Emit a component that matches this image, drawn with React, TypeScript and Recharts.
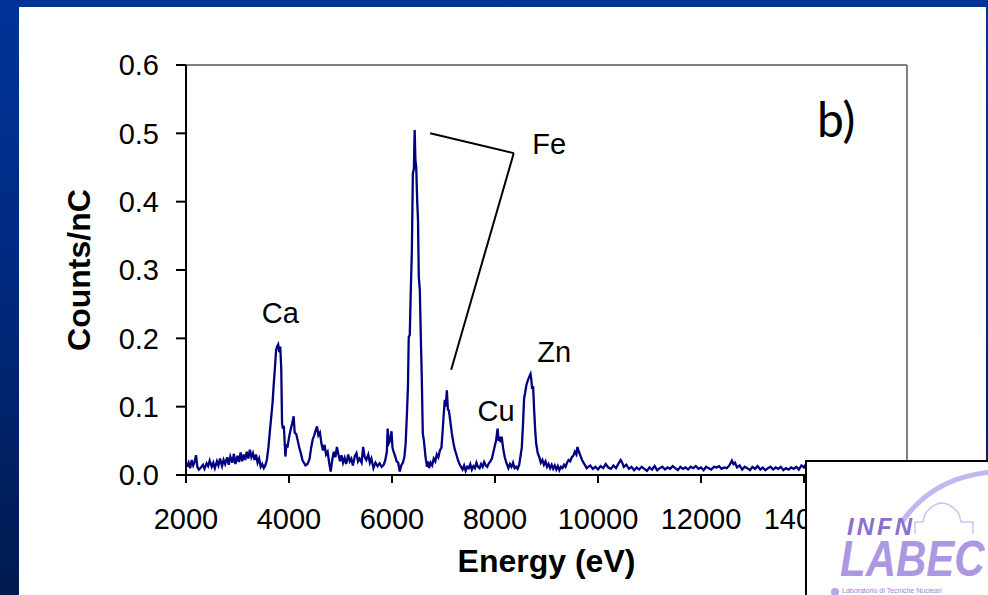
import React from 'react';
import { LineChart, Line, XAxis, YAxis, ReferenceLine, ReferenceDot, Label } from 'recharts';

const energies = [
  2020, 2050, 2080, 2110, 2140, 2170, 2195, 2220, 2250, 2290, 2330, 2360, 2400, 2430, 2460, 2500, 2530, 2560, 2600, 2630,
  2660, 2700, 2730, 2760, 2800, 2830, 2860, 2900, 2930, 2960, 3000, 3030, 3060, 3090, 3120, 3150, 3180, 3210, 3240, 3270,
  3300, 3330, 3360, 3390, 3420, 3450, 3480, 3510, 3540, 3570, 3600, 3630, 3655, 3680, 3700, 3725, 3750, 3770, 3790, 3810,
  3830, 3850, 3865, 3880, 3900, 3930, 3950, 3970, 4000, 4030, 4060, 4090, 4110, 4140, 4170, 4200, 4230, 4260, 4290, 4320,
  4360, 4400, 4430, 4460, 4490, 4520, 4545, 4570, 4600, 4630, 4660, 4690, 4720, 4750, 4780, 4810, 4840, 4870, 4900, 4930,
  4960, 4990, 5020, 5050, 5080, 5110, 5150, 5180, 5210, 5240, 5280, 5310, 5340, 5370, 5410, 5440, 5470, 5500, 5540, 5570,
  5600, 5640, 5680, 5720, 5760, 5800, 5840, 5870, 5900, 5915, 5935, 5960, 5990, 6010, 6030, 6060, 6090, 6120, 6150, 6180,
  6210, 6240, 6265, 6290, 6310, 6325, 6345, 6365, 6385, 6405, 6425, 6440, 6455, 6470, 6490, 6505, 6520, 6540, 6560, 6578,
  6598, 6620, 6650, 6680, 6700, 6720, 6750, 6780, 6810, 6840, 6870, 6900, 6930, 6960, 6985, 7005, 7025, 7045, 7065, 7085,
  7105, 7130, 7160, 7190, 7220, 7250, 7280, 7310, 7340, 7370, 7400, 7430, 7460, 7490, 7520, 7550, 7580, 7610, 7640, 7670,
  7700, 7730, 7760, 7790, 7820, 7850, 7880, 7910, 7940, 7970, 7995, 8020, 8050, 8070, 8090, 8110, 8130, 8160, 8190, 8220,
  8260, 8290, 8320, 8350, 8380, 8410, 8440, 8470, 8500, 8520, 8545, 8565, 8585, 8610, 8640, 8665, 8690, 8705, 8720, 8740,
  8760, 8780, 8800, 8830, 8860, 8890, 8920, 8950, 8980, 9010, 9040, 9070, 9100, 9130, 9160, 9190, 9220, 9250, 9280, 9310,
  9340, 9370, 9400, 9430, 9460, 9490, 9520, 9550, 9580, 9600, 9630, 9660, 9690, 9720, 9750, 9780, 9810, 9850, 9900, 9950,
  10000, 10050, 10100, 10150, 10200, 10250, 10300, 10350, 10400, 10440, 10470, 10500, 10550, 10600, 10650, 10700, 10750, 10800, 10850, 10900,
  10950, 11000, 11050, 11100, 11150, 11200, 11250, 11300, 11350, 11400, 11450, 11500, 11550, 11600, 11650, 11700, 11750, 11800, 11850, 11900,
  11950, 12000, 12050, 12100, 12150, 12200, 12250, 12300, 12350, 12400, 12450, 12500, 12550, 12600, 12630, 12660, 12700, 12750, 12800, 12850,
  12900, 12950, 13000, 13050, 13100, 13150, 13200, 13250, 13300, 13350, 13400, 13450, 13500, 13550, 13600, 13650, 13700, 13750, 13800, 13850,
  13900, 13950, 14000, 14050, 14100, 14150, 14200,
];

const counts = [
  0.012, 0.018, 0.010, 0.022, 0.014, 0.020, 0.029, 0.012, 0.008, 0.011, 0.015, 0.009, 0.017, 0.013, 0.021, 0.012, 0.018, 0.010, 0.020, 0.014,
  0.024, 0.013, 0.022, 0.016, 0.026, 0.015, 0.027, 0.018, 0.031, 0.016, 0.028, 0.019, 0.033, 0.020, 0.030, 0.022, 0.034, 0.024, 0.037, 0.026,
  0.032, 0.022, 0.030, 0.018, 0.024, 0.012, 0.016, 0.010, 0.014, 0.022, 0.040, 0.065, 0.085, 0.105, 0.129, 0.155, 0.183, 0.188, 0.191, 0.180,
  0.188, 0.154, 0.076, 0.068, 0.072, 0.027, 0.045, 0.040, 0.055, 0.066, 0.075, 0.086, 0.062, 0.060, 0.050, 0.040, 0.032, 0.022, 0.018, 0.014,
  0.016, 0.024, 0.040, 0.052, 0.058, 0.066, 0.071, 0.058, 0.062, 0.046, 0.036, 0.044, 0.030, 0.034, 0.018, 0.005, 0.022, 0.034, 0.026, 0.041,
  0.030, 0.020, 0.029, 0.018, 0.025, 0.016, 0.030, 0.020, 0.024, 0.014, 0.028, 0.032, 0.020, 0.024, 0.018, 0.041, 0.026, 0.022, 0.030, 0.018,
  0.024, 0.010, 0.018, 0.013, 0.017, 0.012, 0.015, 0.022, 0.034, 0.068, 0.046, 0.050, 0.064, 0.040, 0.034, 0.028, 0.020, 0.018, 0.005, 0.014,
  0.018, 0.026, 0.046, 0.090, 0.130, 0.202, 0.205, 0.270, 0.325, 0.441, 0.448, 0.505, 0.460, 0.451, 0.400, 0.373, 0.290, 0.271, 0.200, 0.144,
  0.061, 0.050, 0.027, 0.012, 0.020, 0.010, 0.018, 0.014, 0.024, 0.020, 0.030, 0.026, 0.036, 0.040, 0.066, 0.090, 0.110, 0.100, 0.124, 0.096,
  0.094, 0.080, 0.062, 0.048, 0.037, 0.030, 0.022, 0.016, 0.012, 0.008, 0.014, 0.006, 0.012, 0.010, 0.016, 0.008, 0.013, 0.010, 0.018, 0.012,
  0.010, 0.016, 0.012, 0.019, 0.014, 0.012, 0.017, 0.020, 0.024, 0.034, 0.042, 0.050, 0.068, 0.050, 0.056, 0.048, 0.056, 0.038, 0.026, 0.018,
  0.010, 0.016, 0.012, 0.018, 0.010, 0.012, 0.009, 0.015, 0.030, 0.040, 0.076, 0.112, 0.120, 0.132, 0.139, 0.144, 0.148, 0.140, 0.126, 0.130,
  0.095, 0.066, 0.046, 0.032, 0.026, 0.018, 0.022, 0.015, 0.020, 0.012, 0.016, 0.010, 0.015, 0.009, 0.014, 0.008, 0.013, 0.007, 0.012, 0.010,
  0.015, 0.012, 0.018, 0.022, 0.020, 0.026, 0.028, 0.034, 0.030, 0.041, 0.034, 0.028, 0.022, 0.018, 0.014, 0.010, 0.012, 0.014, 0.009, 0.012,
  0.008, 0.013, 0.010, 0.016, 0.011, 0.009, 0.014, 0.010, 0.017, 0.022, 0.018, 0.012, 0.015, 0.009, 0.012, 0.007, 0.011, 0.008, 0.012, 0.009,
  0.006, 0.011, 0.008, 0.013, 0.007, 0.010, 0.012, 0.008, 0.011, 0.009, 0.013, 0.010, 0.007, 0.012, 0.009, 0.011, 0.008, 0.012, 0.010, 0.013,
  0.009, 0.011, 0.007, 0.012, 0.010, 0.008, 0.012, 0.011, 0.013, 0.009, 0.011, 0.010, 0.014, 0.021, 0.016, 0.018, 0.011, 0.014, 0.008, 0.012,
  0.010, 0.007, 0.012, 0.009, 0.013, 0.008, 0.011, 0.007, 0.010, 0.012, 0.008, 0.011, 0.009, 0.012, 0.007, 0.010, 0.008, 0.011, 0.009, 0.012,
  0.008, 0.014, 0.011, 0.018, 0.012, 0.010, 0.011,
];

const xTicks = [2000, 4000, 6000, 8000, 10000, 12000, 14000, 16000];
const yTicks = [0, 0.1, 0.2, 0.3, 0.4, 0.5, 0.6];

const peakNames = ['Ca', 'Fe', 'Cu', 'Zn'];
const peakLabelX = [3831, 9052, 8019, 9149];
const peakLabelY = [0.237, 0.485, 0.094, 0.181];

const panelTag = 'b)';
const panelTagX = 14623;
const panelTagY = 0.52;

const feLineX = [6740, 8364, 7149];
const feLineY = [0.5, 0.471, 0.154];

const data = energies.map((e, i) => ({ energy: e, counts: counts[i] }));

const FONT = '"Liberation Sans", Arial, sans-serif';

export default function App() {
  return (
    <div
      style={{
        position: 'absolute',
        left: 0,
        top: 0,
        width: 988,
        height: 595,
        overflow: 'hidden',
        background: 'linear-gradient(180deg, #003399 0%, #002a80 45%, #001a4d 100%)',
      }}
    >
      <div style={{ position: 'absolute', left: 19, top: 7, width: 967, height: 588, background: '#ffffff' }} />
      <div style={{ position: 'absolute', left: 0, top: 0 }}>
        <LineChart width={988} height={595} data={data} margin={{ top: 65, right: 81, bottom: 40, left: 60 }}>
          <ReferenceLine y={0.6} stroke="#808080" strokeWidth={2} ifOverflow="visible" />
          <ReferenceLine x={16000} stroke="#808080" strokeWidth={2} ifOverflow="visible" />
          <XAxis
            dataKey="energy"
            type="number"
            domain={[2000, 16000]}
            ticks={xTicks}
            interval={0}
            allowDataOverflow
            height={80}
            tickSize={8}
            tickMargin={25}
            axisLine={{ stroke: '#000', strokeWidth: 2 }}
            tickLine={{ stroke: '#000', strokeWidth: 2 }}
            tick={{ fill: '#000', fontSize: 29, fontFamily: FONT }}
          >
            <Label
              value="Energy (eV)"
              position="insideTop"
              offset={74}
              style={{ fontSize: 32, fontWeight: 'bold', fill: '#000', fontFamily: FONT }}
            />
          </XAxis>
          <YAxis
            type="number"
            domain={[0, 0.6]}
            ticks={yTicks}
            interval={0}
            width={126}
            tickSize={10}
            tickMargin={17}
            tickFormatter={(v: number) => v.toFixed(1)}
            axisLine={{ stroke: '#000', strokeWidth: 2 }}
            tickLine={{ stroke: '#000', strokeWidth: 2 }}
            tick={{ fill: '#000', fontSize: 29, fontFamily: FONT }}
          >
            <Label
              value="Counts/nC"
              angle={-90}
              position="insideLeft"
              offset={19}
              style={{ fontSize: 32, fontWeight: 'bold', fill: '#000', fontFamily: FONT, textAnchor: 'middle' }}
            />
          </YAxis>
          <Line
            dataKey="counts"
            type="linear"
            stroke="#000080"
            strokeWidth={2.3}
            dot={false}
            isAnimationActive={false}
          />
          <ReferenceLine
            segment={[
              { x: feLineX[0], y: feLineY[0] },
              { x: feLineX[1], y: feLineY[1] },
            ]}
            stroke="#000"
            strokeWidth={2}
            ifOverflow="visible"
          />
          <ReferenceLine
            segment={[
              { x: feLineX[1], y: feLineY[1] },
              { x: feLineX[2], y: feLineY[2] },
            ]}
            stroke="#000"
            strokeWidth={2}
            ifOverflow="visible"
          />
          {peakNames.map((name, i) => (
            <ReferenceDot
              key={name}
              x={peakLabelX[i]}
              y={peakLabelY[i]}
              r={1}
              fill="none"
              stroke="none"
              ifOverflow="visible"
              label={{ value: name, position: 'center', fill: '#000', fontSize: 29, fontFamily: FONT }}
            />
          ))}
          <ReferenceDot
            x={panelTagX}
            y={panelTagY}
            r={1}
            fill="none"
            stroke="none"
            ifOverflow="visible"
            label={{ value: panelTag, position: 'center', fill: '#000', fontSize: 48, fontFamily: 'Lato, "Open Sans", sans-serif' }}
          />
        </LineChart>
      </div>
      <div
        style={{
          position: 'absolute',
          left: 805,
          top: 460,
          width: 190,
          height: 140,
          background: '#ffffff',
          borderTop: '2px solid #000',
          borderLeft: '2px solid #000',
          overflow: 'hidden',
          fontFamily: FONT,
        }}
      >
        <svg width={190} height={140} style={{ position: 'absolute', left: 0, top: 0 }}>
          <path d="M 95 60 Q 125 16 183 10" stroke="#c4b6ee" strokeWidth={5} fill="none" />
          <path
            d="M 108 72 L 108 60 L 116 60 L 118 52 Q 135 30 152 52 L 154 60 L 166 60 L 166 72"
            stroke="#cdc1f0"
            strokeWidth={1.5}
            fill="none"
          />
          <circle cx={28} cy={130} r={4} fill="#b9a7ea" />
        </svg>
        <div
          style={{
            position: 'absolute',
            left: 40,
            top: 56,
            fontSize: 24,
            fontWeight: 'bold',
            fontStyle: 'italic',
            letterSpacing: 3,
            color: '#8a6fd1',
            lineHeight: '18px',
            whiteSpace: 'nowrap',
          }}
        >
          INFN
        </div>
        <div
          style={{
            position: 'absolute',
            left: 33,
            top: 78,
            fontSize: 50,
            fontWeight: 'bold',
            fontStyle: 'italic',
            color: '#ab97e4',
            lineHeight: '38px',
            whiteSpace: 'nowrap',
            transform: 'scaleX(0.84)',
            transformOrigin: 'left top',
          }}
        >
          LABEC
        </div>
        <div
          style={{
            position: 'absolute',
            left: 35,
            top: 125,
            fontSize: 7,
            color: '#9a86d8',
            lineHeight: '8px',
            whiteSpace: 'nowrap',
          }}
        >
          Laboratorio di Tecniche Nucleari
        </div>
      </div>
    </div>
  );
}
